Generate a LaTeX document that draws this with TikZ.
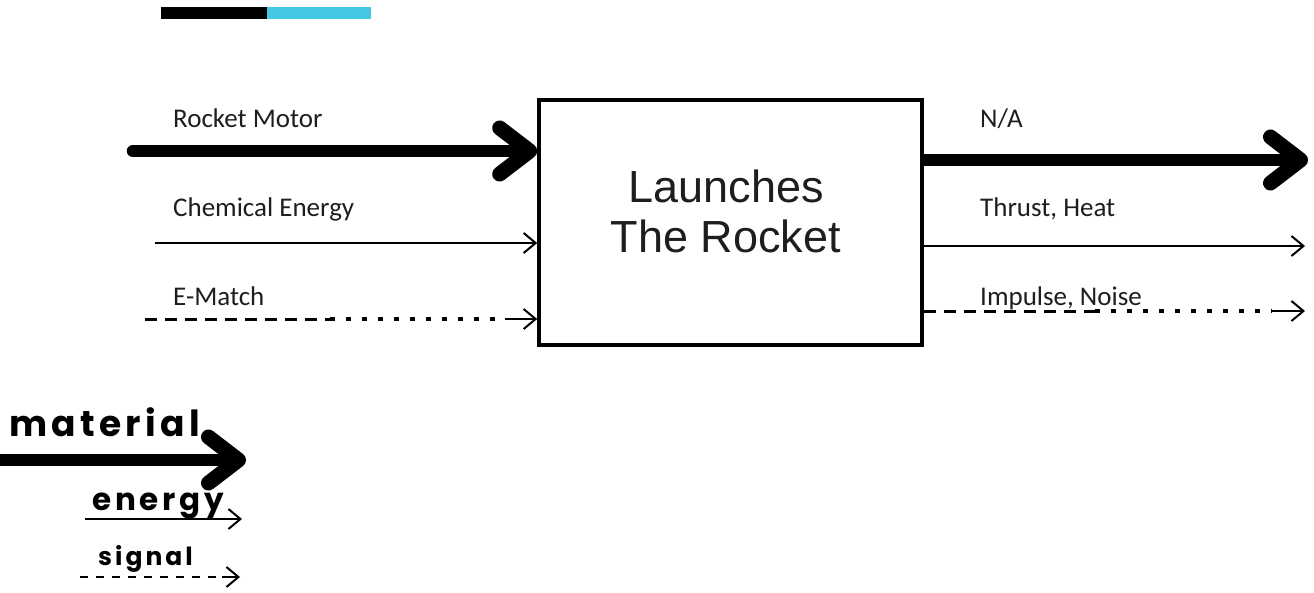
\documentclass[tikz,border=0pt]{standalone}
\usepackage{fontspec}
\setmainfont{Carlito}
\newfontfamily\titlefont{Liberation Sans}
\newfontfamily\handfont[LetterSpace=12]{Poppins}
\usetikzlibrary{arrows.meta}
\definecolor{barcyan}{RGB}{68,200,228}
\definecolor{ink}{RGB}{30,30,30}
\tikzset{
  material/.style={line width=12.5pt, line cap=round,
    -{Straight Barb[round,length=30pt,width=46pt,line width=15pt]}},
  energyflow/.style={line width=2pt,
    -{Straight Barb[length=12pt,width=20pt,line width=2pt]}},
  signaldash/.style={line width=3pt, dash pattern=on 12pt off 8pt},
  signaldot/.style={line width=3.6pt, dash pattern=on 4.5pt off 11.5pt},
  signalhead/.style={line width=2.2pt,
    -{Straight Barb[length=12pt,width=20pt,line width=2pt]}},
  flowlabel/.style={anchor=base west, inner sep=0pt, font=\fontsize{27}{32}\selectfont, text=ink},
  hand/.style={inner sep=0pt, anchor=base west}
}
\begin{document}
\begin{tikzpicture}[x=1pt,y=-1pt]
\useasboundingbox (0,0) rectangle (1314,592);

% colour bar at the top
\fill[black] (161,7) rectangle (267,19);
\fill[barcyan] (267,7) rectangle (371,19);

% function block
\node[draw, line width=3.6pt, minimum width=383pt, minimum height=245pt,
      inner sep=0pt] (fn) at (730.5,222.5) {};
\node[align=center, inner sep=0pt, text=ink,
      font=\titlefont\fontsize{45}{50}\selectfont] (title) at (726,211)
      {Launches\\The Rocket};

% inputs
\coordinate (inM) at (133,151);
\coordinate (inE) at (155,243);
\coordinate (inS) at (145,319);
\coordinate (inSd) at (330,319);
\coordinate (inSh) at (505,319);
\draw[material] (inM) -- (inM -| fn.west);
\draw[energyflow] (inE) -- (inE -| fn.west);
\draw[signaldash] (inS) -- (inSd);
\draw[signaldot] (inSd) -- (inSh);
\draw[signalhead] (inSh) -- (inSh -| fn.west);

\node[flowlabel] (lM) at (173,127) {Rocket Motor};
\node[flowlabel] (lE) at (173,216) {Chemical Energy};
\node[flowlabel] (lS) at (173,305) {E-Match};

% outputs
\coordinate (outM) at (fn.east |- 0,160);
\coordinate (outMe) at (1308,160);
\coordinate (outE) at (fn.east |- 0,246);
\coordinate (outEe) at (1305,246);
\coordinate (outS) at (fn.east |- 0,311);
\coordinate (outSd) at (1095,311);
\coordinate (outSh) at (1272,311);
\coordinate (outSe) at (1305,311);
\draw[material, line cap=butt] (outM) -- (outMe);
\draw[energyflow] (outE) -- (outEe);
\draw[signaldash] (outS) -- (outSd);
\draw[signaldot] (outSd) -- (outSh);
\draw[signalhead] (outSh) -- (outSe);

\node[flowlabel] (rM) at (980,127) {N/A};
\node[flowlabel] (rE) at (980,216) {Thrust, Heat};
\node[flowlabel] (rS) at (980,305) {Impulse, Noise};

% legend
\coordinate (gM) at (0,460);
\coordinate (gMe) at (246,460);
\coordinate (gE) at (85,519);
\coordinate (gEe) at (242,519);
\coordinate (gS) at (80,577);
\coordinate (gSh) at (222,577);
\coordinate (gSe) at (240,577);
\draw[material, line cap=butt] (gM) -- (gMe);
\draw[energyflow] (gE) -- (gEe);
\draw[line width=2.4pt, dash pattern=on 8pt off 8pt] (gS) -- (gSh);
\draw[signalhead] (gSh) -- (gSe);

\node[hand, font=\handfont\bfseries\fontsize{36}{40}\selectfont] (hM) at (9,436) {material};
\node[hand, font=\handfont\bfseries\fontsize{31}{36}\selectfont] (hE) at (92,510) {energy};
\node[hand, font=\handfont\bfseries\fontsize{25}{30}\selectfont] (hS) at (98,565) {signal};
\end{tikzpicture}
\end{document}
